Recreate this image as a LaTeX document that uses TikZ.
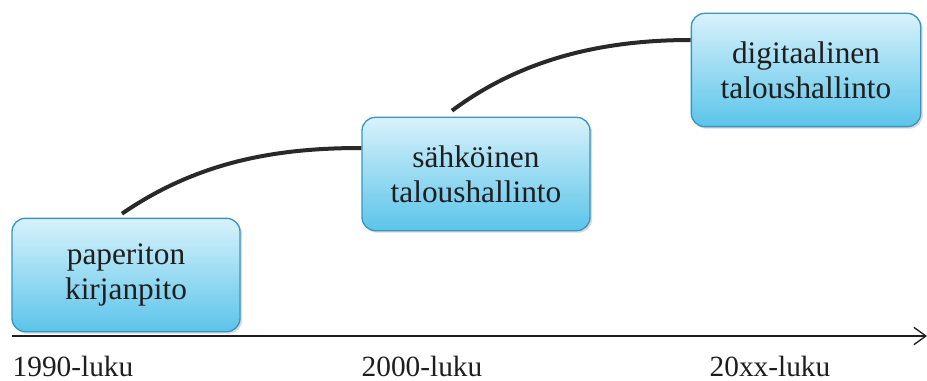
\documentclass[tikz,border=0pt]{standalone}
\usepackage{fontspec}
\setmainfont{Liberation Serif}
\usetikzlibrary{arrows.meta,shadows,calc}
\definecolor{boxtop}{HTML}{D8F2FB}
\definecolor{boxbot}{HTML}{5BC4EA}
\definecolor{boxline}{HTML}{3896BC}
\definecolor{ink}{HTML}{1E1E1E}
\tikzset{
  stage/.style={rectangle, rounded corners=10pt, draw=boxline, line width=1pt,
    top color=boxtop, bottom color=boxbot, align=center, text=ink,
    minimum width=171pt, minimum height=85pt, inner sep=0pt,
    font=\fontsize{23.5}{26.5}\selectfont,
    drop shadow={shadow xshift=1.5pt, shadow yshift=-1.5pt, opacity=0.25, fill=black!60}},
  conn/.style={line width=3pt, draw=ink!95},
  era/.style={font=\fontsize{22}{26}\selectfont, text=ink, anchor=base},
  axis/.style={line width=1pt, draw=ink, -{Straight Barb[length=9pt,width=13pt,line width=1pt]}}
}
\begin{document}
\begin{tikzpicture}[x=0.75pt,y=-0.75pt]
\useasboundingbox (0,0) rectangle (927,381);
% three stages
\node[stage] (b1) at (126,275) {paperiton\\kirjanpito};
\node[stage] (b2) at (476,174) {sähköinen\\taloushallinto};
\node[stage, minimum width=172pt] (b3) at (806,70) {digitaalinen\\taloushallinto};
% connectors between stages
\coordinate (s1) at ($(b1.north)+(-4,-4)$);
\coordinate (e1) at ($(b2.west)+(0,-26)$);
\coordinate (s2) at ($(b2.north)+(-24,-6)$);
\coordinate (e2) at ($(b3.west)+(0,-30)$);
\draw[conn] (s1) .. controls (200,160) and (280,148) .. (e1);
\draw[conn] (s2) .. controls (520,60) and (600,40) .. (e2);
% time axis
\coordinate (a0) at (12,336);
\coordinate (a1) at (927,336);
\draw[axis] (a0) -- (a1);
\node[era] (t1) at (73,376) {1990-luku};
\node[era] (t2) at (422,376) {2000-luku};
\node[era] (t3) at (770,376) {20xx-luku};
\end{tikzpicture}
\end{document}
